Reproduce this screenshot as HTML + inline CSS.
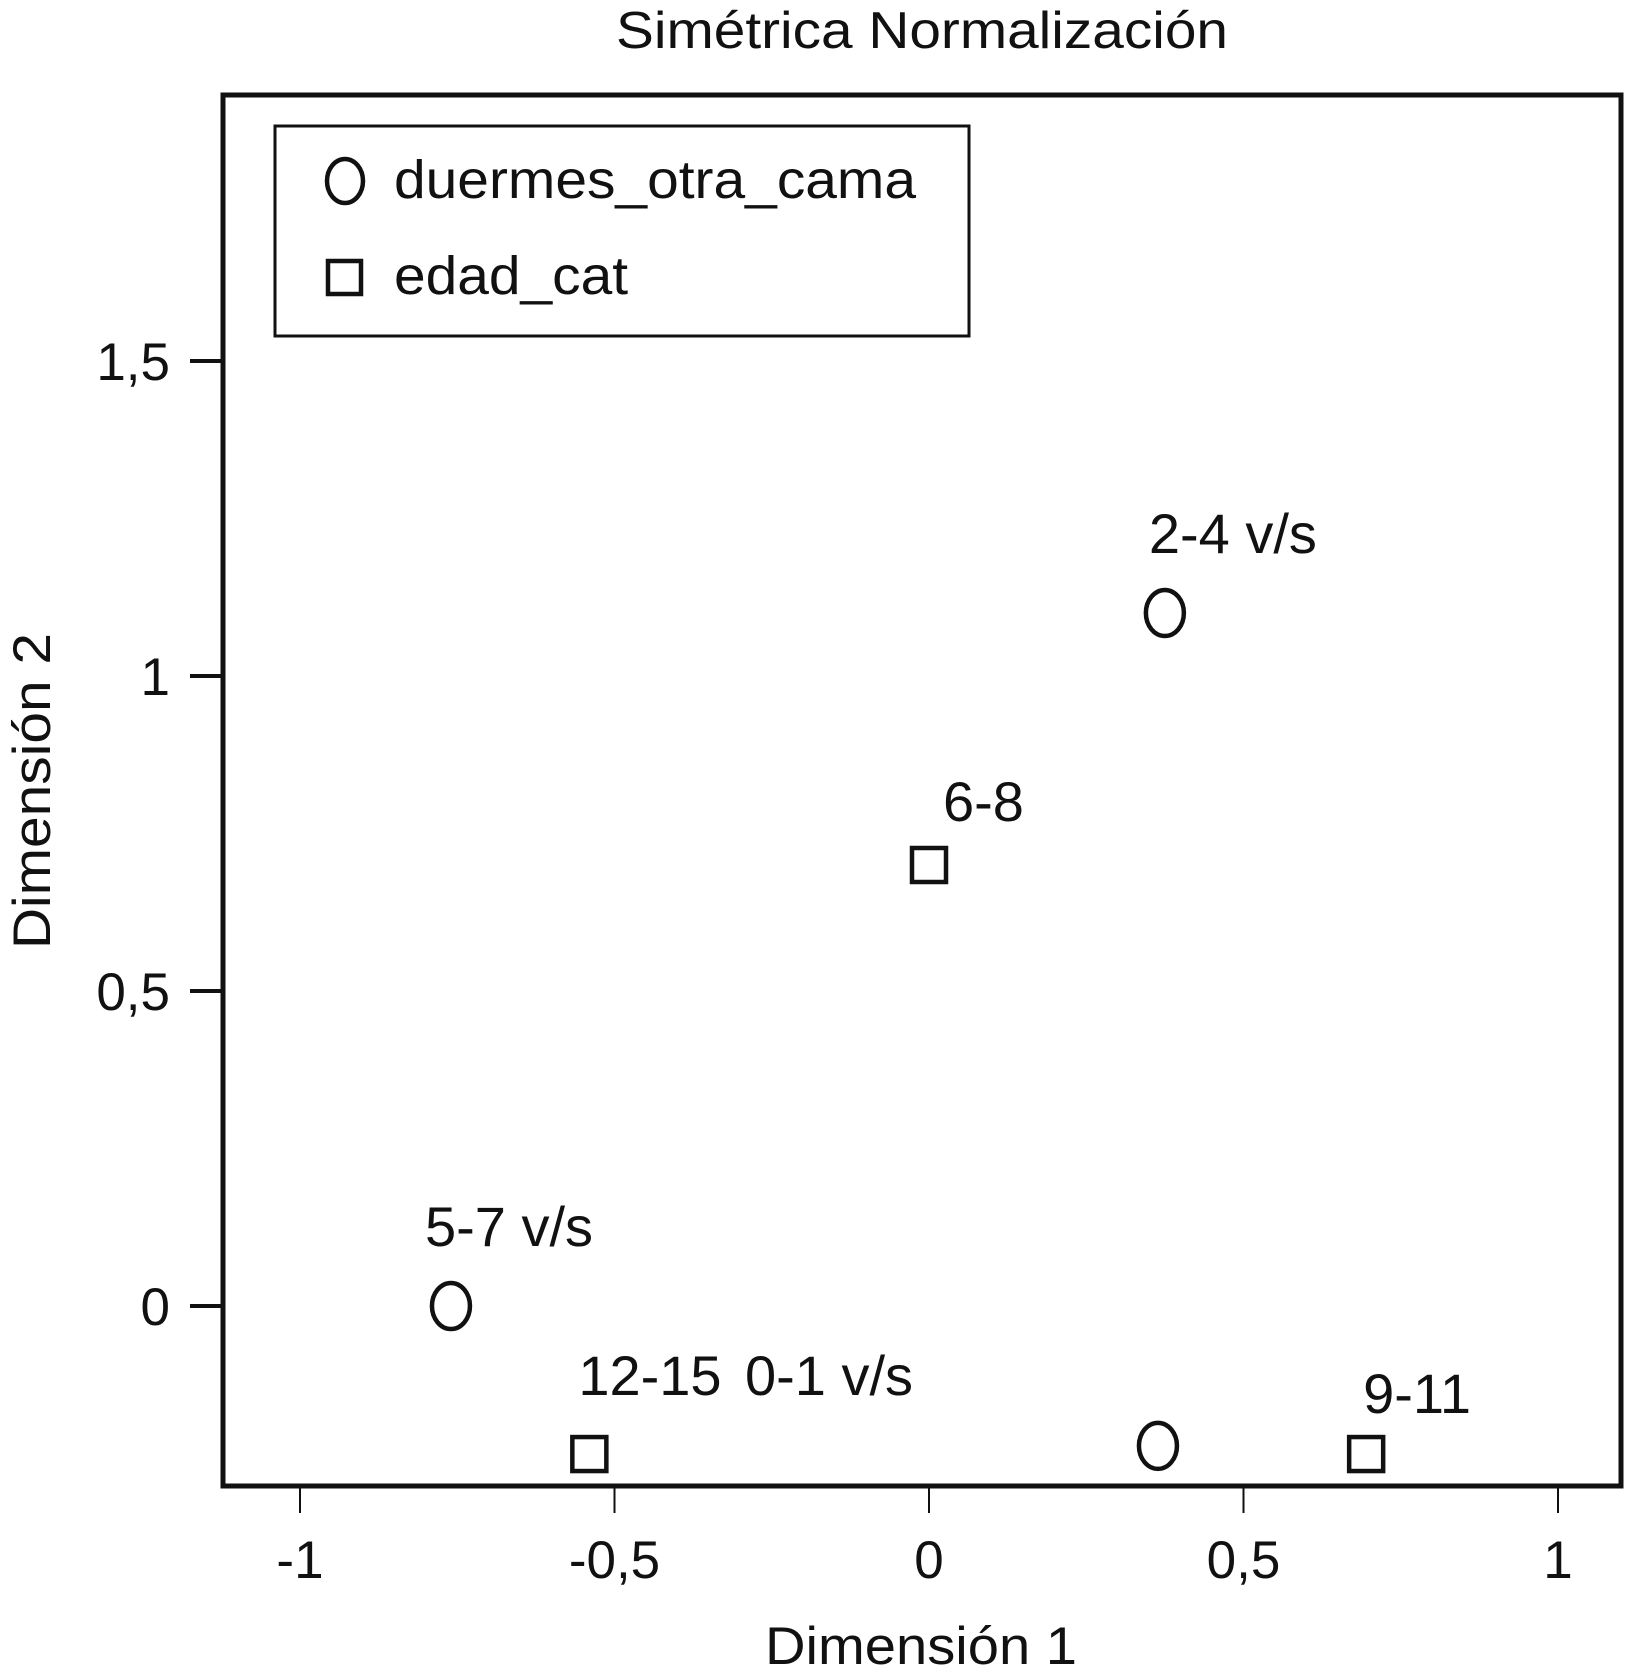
<!DOCTYPE html>
<html><head><meta charset="utf-8"><style>
html,body{margin:0;padding:0;background:#fff;}
svg{display:block;}
text{font-family:"Liberation Sans",Arial,sans-serif;fill:#111;}
</style></head><body>
<svg id="chart" width="1625" height="1677" viewBox="0 0 1625 1677" xmlns="http://www.w3.org/2000/svg">
<text x="922" y="48" font-size="52" text-anchor="middle" textLength="612" lengthAdjust="spacingAndGlyphs">Simétrica Normalización</text>
<rect x="223" y="95" width="1398" height="1391" fill="none" stroke="#111" stroke-width="5"/>
<g id="xticks"></g>
<g id="yticks"></g>
<text x="921" y="1664" font-size="53" text-anchor="middle" textLength="312" lengthAdjust="spacingAndGlyphs">Dimensión 1</text>
<text x="0" y="0" font-size="53" text-anchor="middle" textLength="316" lengthAdjust="spacingAndGlyphs" transform="translate(50,791) rotate(-90)">Dimensión 2</text>
<g>
<rect x="275" y="126" width="694" height="210" fill="#fff" stroke="#111" stroke-width="3"/>
<ellipse cx="345" cy="181" rx="18" ry="22" fill="none" stroke="#111" stroke-width="4.5"/>
<text x="394" y="198" font-size="54" textLength="522" lengthAdjust="spacingAndGlyphs">duermes_otra_cama</text>
<rect x="328" y="261" width="33" height="33" fill="none" stroke="#111" stroke-width="4.5"/>
<text x="394" y="294" font-size="54" textLength="234" lengthAdjust="spacingAndGlyphs">edad_cat</text>
</g>
<g id="points"></g>
</svg>
<script>
const pointLabels = ["2-4 v/s", "6-8", "5-7 v/s", "12-15", "0-1 v/s", "9-11"];
const pointX = [0.375, 0.0, -0.76, -0.54, 0.364, 0.695];
const pointY = [1.10, 0.70, 0.0, -0.235, -0.222, -0.235];
const pointType = ["circle", "square", "circle", "square", "circle", "square"];
const xTicks = [-1, -0.5, 0, 0.5, 1];
const yTicks = [0, 0.5, 1, 1.5];
const xTickLabels = ["-1", "-0,5", "0", "0,5", "1"];
const yTickLabels = ["0", "0,5", "1", "1,5"];
const labelDx = [-16, 14, -26, -11, -413, -3];
const labelDy = [-60, -44, -60, -59, -51, -41];

const NS = "http://www.w3.org/2000/svg";
function sx(v){ return 929 + v * 629; }
function sy(v){ return 1306 - v * 630; }
function mk(tag, attrs, parent){
  const e = document.createElementNS(NS, tag);
  for (const k in attrs) e.setAttribute(k, attrs[k]);
  parent.appendChild(e);
  return e;
}
const xg = document.getElementById("xticks");
xTicks.forEach((t, i) => {
  const l = mk("line", {x1: sx(t), x2: sx(t), y1: 1488, y2: 1513, stroke: "#111", "stroke-width": 2}, xg);
  
  
  const tx = mk("text", {x: sx(t), y: 1578, "font-size": 53, "text-anchor": "middle"}, xg);
  tx.textContent = xTickLabels[i];
  
  
});
const yg = document.getElementById("yticks");
yTicks.forEach((t, i) => {
  const l = mk("line", {x1: 190, x2: 221, y1: sy(t), y2: sy(t), stroke: "#111", "stroke-width": 4}, yg);
  
  
  const tx = mk("text", {x: 170, y: sy(t) + 19, "font-size": 53, "text-anchor": "end"}, yg);
  tx.textContent = yTickLabels[i];
  
  
});
const pg = document.getElementById("points");
pointX.forEach((v, i) => {
  const cx = sx(v), cy = sy(pointY[i]);
  let m;
  if (pointType[i] === "circle") {
    m = mk("ellipse", {cx: cx, cy: cy, rx: 19, ry: 23, fill: "none", stroke: "#111", "stroke-width": 4.5}, pg);
  } else {
    m = mk("rect", {x: cx - 17, y: cy - 17, width: 34, height: 34, fill: "none", stroke: "#111", "stroke-width": 4.5}, pg);
  }
  
  
  const tx = mk("text", {x: cx + labelDx[i], y: cy + labelDy[i], "font-size": 56}, pg);
  tx.textContent = pointLabels[i];
  
  
});
</script>
</body></html>
